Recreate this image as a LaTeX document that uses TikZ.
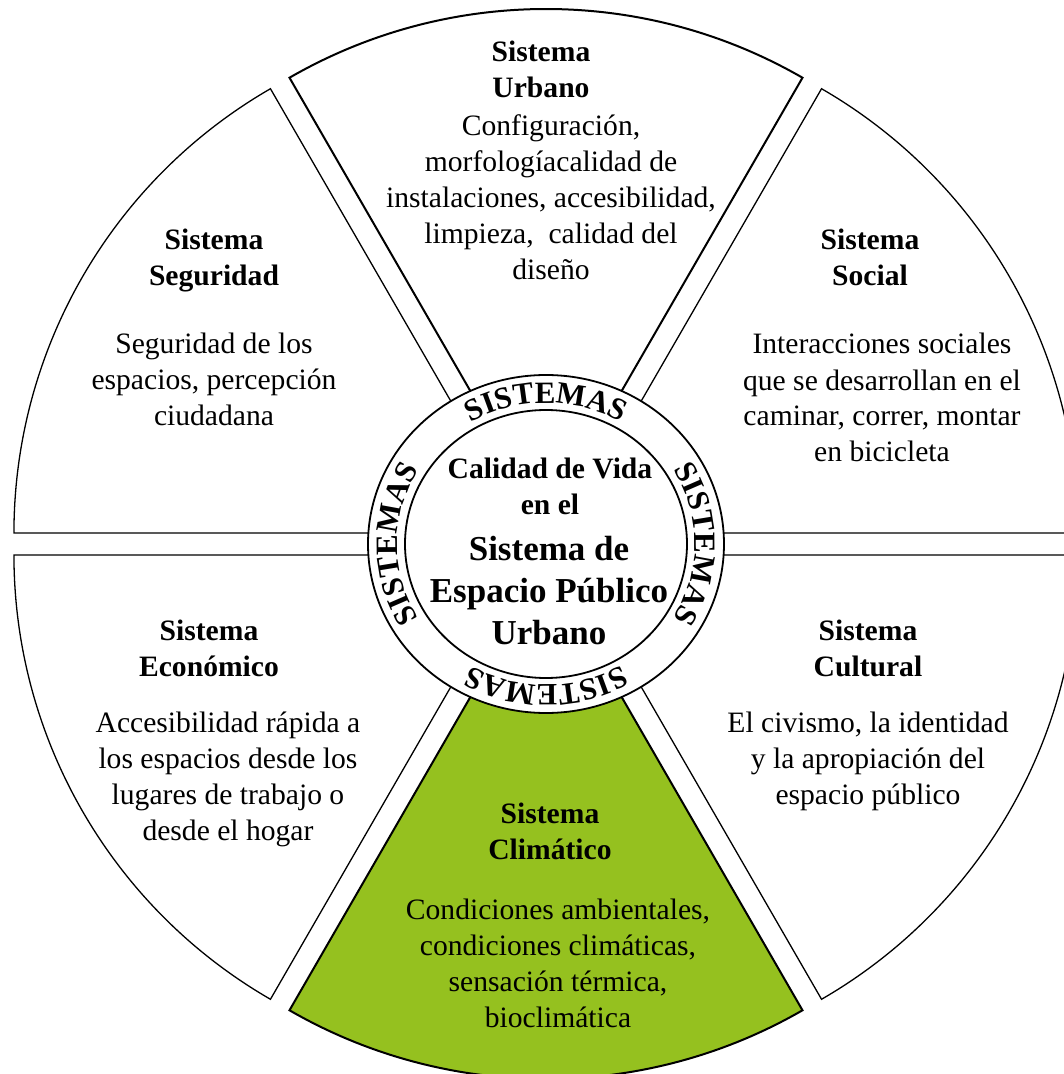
\documentclass[tikz,border=0pt]{standalone}
\usepackage{fontspec}
\setmainfont{Liberation Serif}
\usetikzlibrary{decorations.text}
\definecolor{climagreen}{RGB}{149,193,31}

\begin{document}
\begin{tikzpicture}[x=1pt,y=1pt,
	sector_line/.style={draw=black,line width=1.3pt,line join=miter},
	sector_bold/.style={draw=black,line width=2pt,line join=miter},
	sys_title/.style={font=\bfseries\fontsize{29.6}{36}\selectfont,align=center,inner sep=0pt,anchor=base},
	sys_text/.style={font=\fontsize{29.6}{36}\selectfont,align=center,inner sep=0pt,anchor=base},
	ring_text/.style={decorate,decoration={text along path,text align=center,
		text={|\bfseries\fontsize{31}{31}\selectfont|SISTEMAS}}}]
		
		\useasboundingbox (-546,-530) rectangle (518,544);
		\clip (-546,-530) rectangle (518,544);
		
		% the six sectors
		\draw[sector_bold] (90:22) -- ++(60:513) arc[start angle=60,end angle=120,radius=513] -- cycle;
		\draw[sector_line] (30:22) -- ++(0:513) arc[start angle=0,end angle=60,radius=513] -- cycle;
		\draw[sector_line] (-30:22) -- ++(-60:513) arc[start angle=-60,end angle=0,radius=513] -- cycle;
		\draw[sector_bold,fill=climagreen] (-90:22) -- ++(-120:513) arc[start angle=-120,end angle=-60,radius=513] -- cycle;
		\draw[sector_line] (-150:22) -- ++(180:513) arc[start angle=180,end angle=240,radius=513] -- cycle;
		\draw[sector_line] (150:22) -- ++(120:513) arc[start angle=120,end angle=180,radius=513] -- cycle;
		
		% ring
		\draw[line width=1.8pt,fill=white] (0,0) ellipse [x radius=178,y radius=169];
		\draw[line width=1.8pt] (0,0) ellipse [x radius=141,y radius=134];
		
		\path[ring_text] (140:149 and 141) arc[start angle=140,end angle=40,x radius=149,y radius=141];
		\path[ring_text] (50:149 and 141) arc[start angle=50,end angle=-50,x radius=149,y radius=141];
		\path[ring_text] (-40:149 and 141) arc[start angle=-40,end angle=-140,x radius=149,y radius=141];
		\path[ring_text] (230:149 and 141) arc[start angle=230,end angle=130,x radius=149,y radius=141];
		
		% base anchor = last line
		\node[sys_title] (centro_top) at (4,30) {Calidad de Vida\\en el};
		\node[sys_title,font=\bfseries\fontsize{35}{42}\selectfont] (centro_main) at (3,-100) {Sistema de\\Espacio Público\\Urbano};
		
		\node[sys_title] (urbano_title) at (-5,446) {Sistema\\Urbano};
		\node[sys_text] (urbano_text) at (5,264) {Configuración,\\morfologíacalidad de\\instalaciones, accesibilidad,\\limpieza, \ calidad del\\diseño};
		
		\node[sys_title] (social_title) at (324,258) {Sistema\\Social};
		\node[sys_text] (social_text) at (336,82) {Interacciones sociales\\que se desarrollan en el\\caminar, correr, montar\\en bicicleta};
		
		\node[sys_title] (cultural_title) at (322,-132) {Sistema\\Cultural};
		\node[sys_text] (cultural_text) at (322,-260) {El civismo, la identidad\\y la apropiación del\\espacio público};
		
		\node[sys_title] (clima_title) at (4,-315) {Sistema\\Climático};
		\node[sys_text] (clima_text) at (12,-483) {Condiciones ambientales,\\condiciones climáticas,\\sensación térmica,\\bioclimática};
		
		\node[sys_title] (economico_title) at (-337,-132) {Sistema\\Económico};
		\node[sys_text] (economico_text) at (-318,-296) {Accesibilidad rápida a\\los espacios desde los\\lugares de trabajo o\\desde el hogar};
		
		\node[sys_title] (seguridad_title) at (-332,258) {Sistema\\Seguridad};
		\node[sys_text] (seguridad_text) at (-332,118) {Seguridad de los\\espacios, percepción\\ciudadana};
		\end{tikzpicture}
\end{document}
